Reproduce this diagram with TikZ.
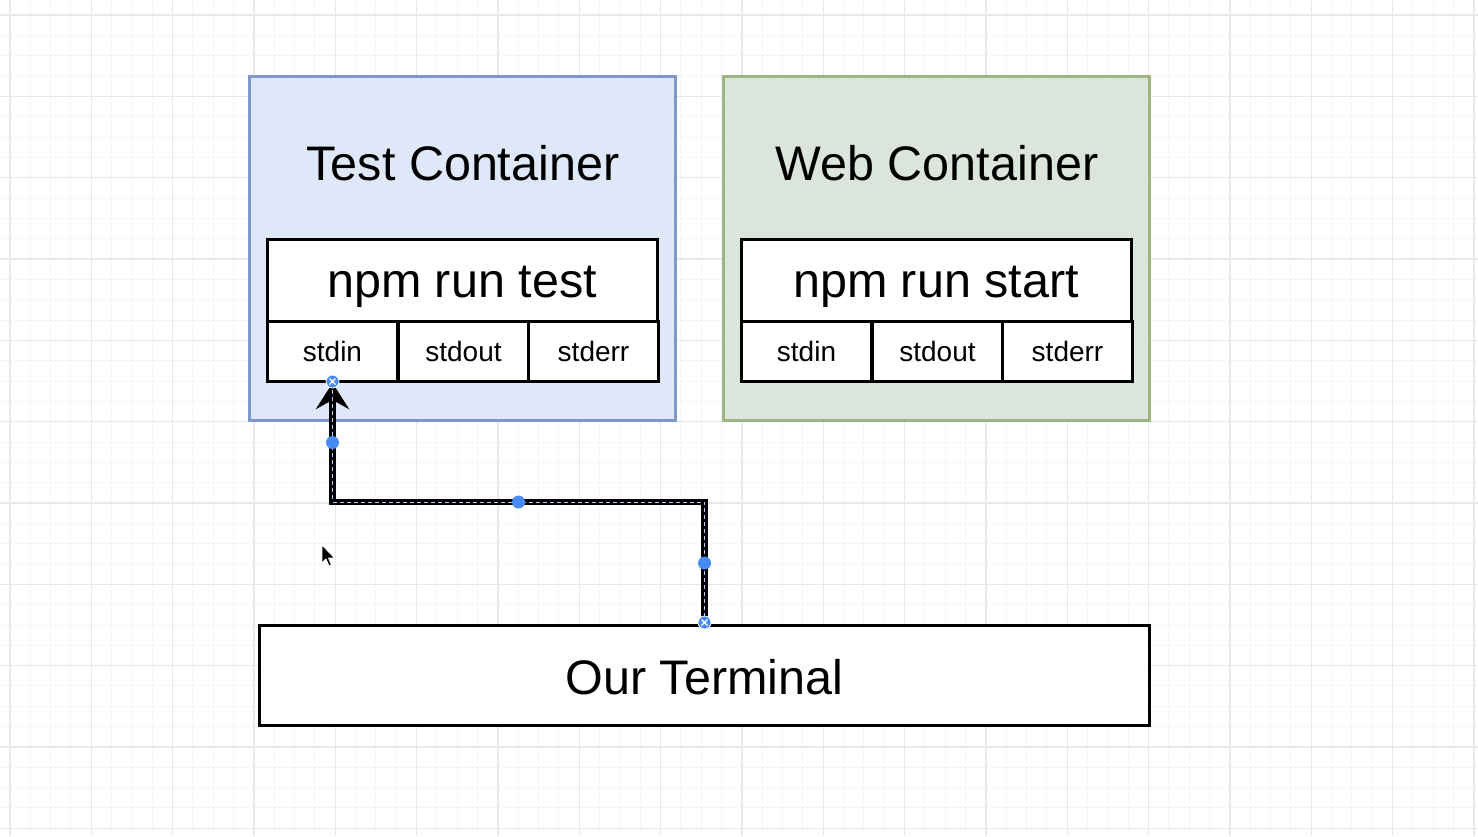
\documentclass[tikz,border=0pt]{standalone}
\usepackage{fontspec}
\setmainfont{Liberation Sans}
\usetikzlibrary{arrows.meta,calc}

\definecolor{gridminor}{HTML}{F6F6F6}
\definecolor{gridmajor}{HTML}{E8E8E8}
\definecolor{bluefill}{HTML}{DFE8F9}
\definecolor{bluedraw}{HTML}{7E99C9}
\definecolor{greenfill}{HTML}{DCE5DB}
\definecolor{greendraw}{HTML}{9DB583}
\definecolor{handle}{HTML}{4A8AF4}

\begin{document}
\begin{tikzpicture}[x=1pt,y=-1pt,
  container/.style={draw, line width=3pt, anchor=north west, inner sep=0pt,
    minimum width=426pt, minimum height=344pt},
  cmdrow/.style={draw=black, fill=white, line width=3pt, anchor=north west,
    inner sep=0pt, minimum width=390pt, minimum height=82pt},
  cell/.style={draw=black, fill=white, line width=3pt, anchor=north west,
    inner sep=0pt, minimum width=130pt, minimum height=60pt,
    font=\fontsize{28}{32}\selectfont},
  bigtext/.style={anchor=base, inner sep=0pt, font=\fontsize{48.5}{56}\selectfont},
  conn/.style={line width=6.5pt, black,
    -{Stealth[length=26pt,width=33pt,inset=9pt]}},
  connmark/.style={line width=1pt, handle!40!white, dash pattern=on 4pt off 3pt},
  midhandle/.style={fill=handle},
  endhandle/.style={fill=handle, draw=white, line width=0.8pt},
]
% canvas and grid
\fill[white] (0,0) rectangle (1478,836);
\useasboundingbox (0,0) rectangle (1478,836);
\foreach \k in {0,...,72} \draw[gridminor, line width=1pt] ({10+20.333*\k},0) -- ++(0,836);
\foreach \k in {0,...,40} \draw[gridminor, line width=1pt] (0,{15+20.333*\k}) -- ++(1478,0);
\foreach \k in {0,...,18} \draw[gridmajor, line width=1.2pt] ({10+81.333*\k},0) -- ++(0,836);
\foreach \k in {0,...,10} \draw[gridmajor, line width=1.2pt] (0,{15+81.333*\k}) -- ++(1478,0);

% containers
\node[container, fill=bluefill, draw=bluedraw] (testc) at (248,75) {};
\node[container, fill=greenfill, draw=greendraw] (webc) at (722,75) {};
\node[bigtext] (testtitle) at (463,180) {Test Container};
\node[bigtext] (webtitle) at (937,180) {Web Container};

% test process
\node[cmdrow] (testcmd) at (266,238) {};
\node[bigtext] (testcmdtext) at (462,297) {npm run test};
\node[cell] (testin)  at (266,320) {stdin};
\node[cell] (testout) at (397,320) {stdout};
\node[cell] (testerr) at (527,320) {stderr};

% web process
\node[cmdrow] (webcmd) at (740,238) {};
\node[bigtext] (webcmdtext) at (936,297) {npm run start};
\node[cell] (webin)  at (740,320) {stdin};
\node[cell] (webout) at (871,320) {stdout};
\node[cell] (weberr) at (1001,320) {stderr};

% terminal
\node[draw=black, fill=white, line width=3pt, anchor=north west, inner sep=0pt,
  minimum width=890pt, minimum height=100pt] (term) at (258,624) {};
\node[bigtext] (termtext) at (term.center |- 0,694) {Our Terminal};

% connector from the terminal into stdin
\coordinate (bendR) at (term.north |- 0,502);
\coordinate (bendL) at (testin.south |- 0,502);
\draw[conn] (term.north) -- (bendR) -- (bendL) -- (testin.south);
\draw[connmark] (term.north) -- (bendR) -- (bendL) -- ($(testin.south)+(0,4)$);

% selection handles
\fill[midhandle] ($(testin.south)!0.5!(bendL)$) circle (6.5pt);
\fill[midhandle] ($(bendL)!0.5!(bendR)$) circle (6.5pt);
\fill[midhandle] ($(bendR)!0.5!(term.north)$) circle (6.5pt);
\foreach \p in {testin.south, term.north} {
  \filldraw[endhandle] ($(\p)+(0,-1.5)$) circle (6.5pt);
  \draw[white, line width=1.2pt] ($(\p)+(-3,-4.5)$) -- ($(\p)+(3,1.5)$)
                                 ($(\p)+(-3,1.5)$) -- ($(\p)+(3,-4.5)$);
}

% pointer
\filldraw[fill=black, draw=white, line width=0.8pt, line join=round]
  (322,545) -- ++(0,18) -- ++(4,-4) -- ++(3,7) -- ++(2.5,-1) -- ++(-3,-7)
  -- ++(6,0) -- cycle;
\end{tikzpicture}
\end{document}
